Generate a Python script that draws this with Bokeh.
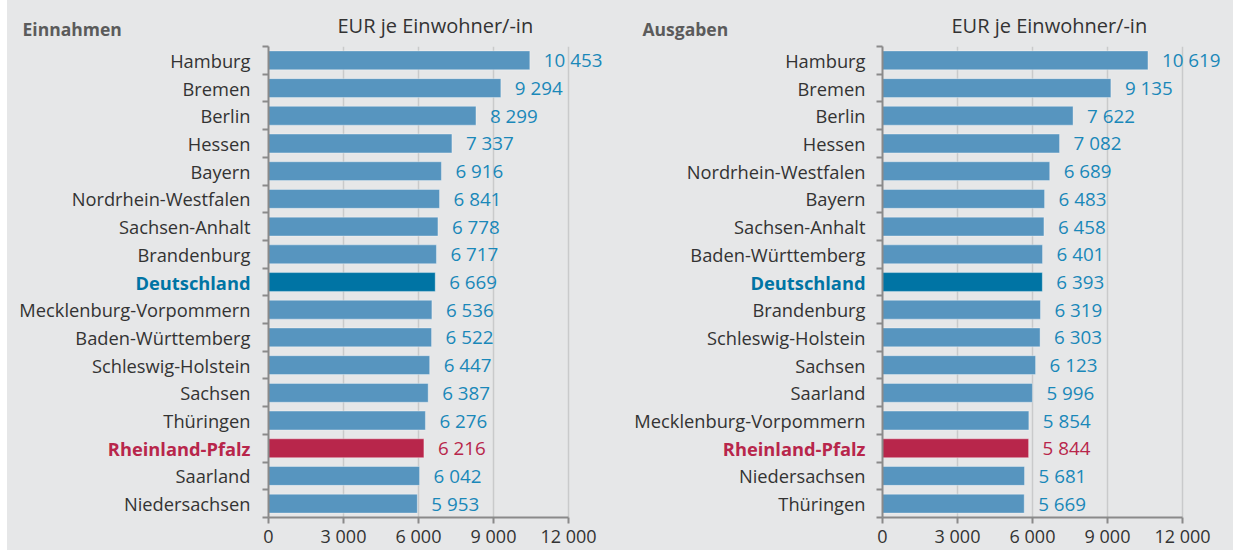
from bokeh.plotting import figure
from bokeh.models import Range1d, FixedTicker, ColumnDataSource, Title, Spacer
from bokeh.layouts import row
from bokeh.embed import file_html
from bokeh.resources import INLINE
from bokeh.core.properties import value

# ---- data ----
ein_names = ["Hamburg", "Bremen", "Berlin", "Hessen", "Bayern", "Nordrhein-Westfalen",
             "Sachsen-Anhalt", "Brandenburg", "Deutschland", "Mecklenburg-Vorpommern",
             "Baden-Württemberg", "Schleswig-Holstein", "Sachsen", "Thüringen",
             "Rheinland-Pfalz", "Saarland", "Niedersachsen"]
ein_values = [10453, 9294, 8299, 7337, 6916, 6841, 6778, 6717, 6669, 6536,
              6522, 6447, 6387, 6276, 6216, 6042, 5953]

aus_names = ["Hamburg", "Bremen", "Berlin", "Hessen", "Nordrhein-Westfalen", "Bayern",
             "Sachsen-Anhalt", "Baden-Württemberg", "Deutschland", "Brandenburg",
             "Schleswig-Holstein", "Sachsen", "Saarland", "Mecklenburg-Vorpommern",
             "Rheinland-Pfalz", "Niedersachsen", "Thüringen"]
aus_values = [10619, 9135, 7622, 7082, 6689, 6483, 6458, 6401, 6393, 6319,
              6303, 6123, 5996, 5854, 5844, 5681, 5669]

x_ticks = [0, 3000, 6000, 9000, 12000]
x_tick_labels = ["0", "3 000", "6 000", "9 000", "12 000"]
unit_label = "EUR je Einwohner/-in"

# ---- style ----
FONT = "Open Sans"
BG = "#e6e7e8"
BAR = "#5795bf"
DE = "#0074a4"
RLP = "#b8264b"
VAL = "#1a88b9"
TXT = "#333333"
HEAD = "#5b5b5b"
PX_PER_UNIT = 300 / 12000.0
TOP = 46
BOTTOM = 32
HEIGHT = 550
AXIS_GAP = 6


def fmt(v):
    return f"{v:,}".replace(",", " ")


def label_fig(title, names, width, right_x, title_x):
    """Category names (frames of a row are aligned, so rows line up with the bars)."""
    n = len(names)
    ys = [n - 1 - i for i in range(n)]
    f = figure(width=width, height=HEIGHT, output_backend="svg", toolbar_location=None,
               x_range=Range1d(0, width), y_range=Range1d(-0.5, n - 0.5),
               min_border_left=0, min_border_right=0, min_border_top=TOP,
               min_border_bottom=BOTTOM, x_axis_location=None, y_axis_location=None,
               background_fill_color=BG, border_fill_color=BG, outline_line_color=None)
    f.add_layout(Title(text=title, align="left", offset=title_x, standoff=11,
                       text_font=FONT, text_font_size="17.5px", text_font_style="bold",
                       text_color=HEAD), "above")
    f.grid.visible = False
    colors = [DE if nm == "Deutschland" else RLP if nm == "Rheinland-Pfalz" else TXT for nm in names]
    styles = ["bold" if nm in ("Deutschland", "Rheinland-Pfalz") else "normal" for nm in names]
    src = ColumnDataSource(dict(x=[right_x] * n, y=ys, t=names, c=colors, s=styles))
    f.text(x="x", y="y", text="t", text_color="c", text_font_style="s",
           text_align="right", text_baseline="middle", text_font=value(FONT),
           text_font_size="18.3px", source=src)
    return f


def panel(names, vals, width):
    n = len(names)
    frame_w = width - AXIS_GAP
    x_end = frame_w / PX_PER_UNIT
    ys = [n - 1 - i for i in range(n)]
    p = figure(width=width, height=HEIGHT, output_backend="svg", toolbar_location=None,
               x_range=Range1d(0, x_end), y_range=Range1d(-0.5, n - 0.5),
               min_border_left=AXIS_GAP, min_border_right=0, min_border_top=TOP,
               min_border_bottom=BOTTOM,
               background_fill_color=BG, border_fill_color=BG, outline_line_color=None)
    p.add_layout(Title(text=unit_label, align="left", offset=69, standoff=15, text_font=FONT,
                       text_font_size="20px", text_font_style="normal", text_color=TXT),
                 "above")

    bar_colors = [DE if nm == "Deutschland" else RLP if nm == "Rheinland-Pfalz" else BAR for nm in names]
    val_colors = [RLP if nm == "Rheinland-Pfalz" else VAL for nm in names]
    src = ColumnDataSource(dict(y=ys, v=vals, c=bar_colors, vc=val_colors,
                                t=[fmt(v) for v in vals]))
    p.hbar(y="y", right="v", left=0, height=0.68, fill_color="c", line_color="white",
           line_alpha=0.35, line_width=1, source=src)
    p.text(x="v", y="y", text="t", x_offset=14, text_baseline="middle", text_align="left",
           text_color="vc", text_font=value(FONT), text_font_size="18.8px", source=src)

    # x axis
    xa = p.xaxis[0]
    xa.ticker = FixedTicker(ticks=x_ticks)
    xa.major_label_overrides = {t: l for t, l in zip(x_ticks, x_tick_labels)}
    xa.bounds = (x_ticks[0], x_ticks[-1])
    xa.axis_line_color = "#8a8a8a"
    xa.axis_line_width = 2
    xa.major_tick_line_color = "#8a8a8a"
    xa.major_tick_line_width = 2
    xa.major_tick_out = 6
    xa.major_tick_in = 0
    xa.minor_tick_line_color = None
    xa.major_label_text_font = FONT
    xa.major_label_text_font_size = "18px"
    xa.major_label_text_color = TXT
    xa.major_label_standoff = 0

    # y axis: ticks between the rows, names drawn in the label figure
    ya = p.yaxis[0]
    ya.ticker = FixedTicker(ticks=list(range(n)), minor_ticks=[i - 0.5 for i in range(n + 1)])
    ya.major_label_overrides = {y: "" for y in ys}
    ya.major_label_text_font_size = "0px"
    ya.major_label_standoff = 0
    ya.axis_line_color = "#8a8a8a"
    ya.axis_line_width = 2
    ya.major_tick_line_color = None
    ya.major_tick_out = 0
    ya.major_tick_in = 0
    ya.minor_tick_line_color = "#8a8a8a"
    ya.minor_tick_line_width = 2
    ya.minor_tick_out = 6
    ya.minor_tick_in = 0

    p.xgrid.ticker = FixedTicker(ticks=x_ticks[1:])
    p.xgrid.grid_line_color = "#c9cacb"
    p.xgrid.grid_line_width = 1.5
    p.ygrid.grid_line_color = None
    return p


lab1 = label_fig("Einnahmen", ein_names, 255, 243, 15)
p1 = panel(ein_names, ein_values, 360)
lab2 = label_fig("Ausgaben", aus_names, 254, 243, 20)
p2 = panel(aus_names, aus_values, 357)
charts = row(lab1, p1, lab2, p2, spacing=0, styles={"background-color": BG})
p = row(Spacer(width=7, height=HEIGHT), charts, spacing=0)

open("out.html", "w").write(file_html(p, INLINE))
